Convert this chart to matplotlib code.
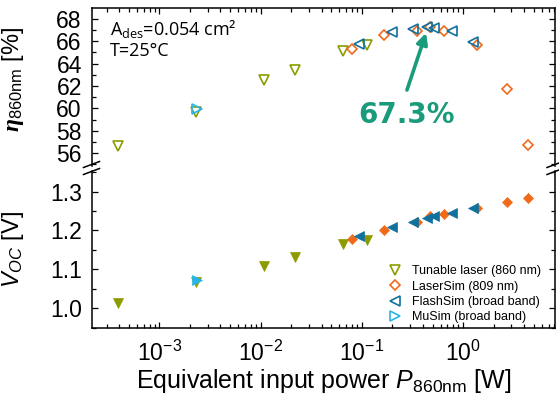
import matplotlib
matplotlib.use("Agg")
import matplotlib.pyplot as plt
from matplotlib.lines import Line2D
from matplotlib.ticker import LogLocator, LogFormatterMathtext, MultipleLocator, NullFormatter

plt.rcParams['font.family'] = ['Liberation Sans', 'DejaVu Sans']
plt.rcParams['mathtext.fontset'] = 'custom'
plt.rcParams['mathtext.rm'] = 'Liberation Sans'
plt.rcParams['mathtext.it'] = 'Liberation Sans:italic'
plt.rcParams['mathtext.bf'] = 'Liberation Sans:bold'
try:
    plt.rcParams['mathtext.bfit'] = 'Liberation Serif:bold:italic'
except KeyError:
    pass

# ---------------- data ----------------
tl_P = [3.9e-4, 2.28e-3, 0.0108, 0.0219, 0.0649, 0.112]
tl_eta = [56.6, 59.7, 62.5, 63.4, 65.1, 65.7]
tl_voc = [1.014, 1.068, 1.108, 1.131, 1.165, 1.176]

ls_P = [0.079, 0.167, 0.349, 0.473, 0.65, 1.37, 2.71, 4.4]
ls_eta = [65.3, 66.6, 66.95, 67.3, 66.9, 65.7, 61.7, 56.7]
ls_voc = [1.179, 1.202, 1.223, 1.236, 1.242, 1.259, 1.274, 1.283]

fs_P = [0.0946, 0.198, 0.319, 0.438, 0.521, 0.774, 1.25]
fs_eta = [65.8, 66.8, 67.1, 67.3, 67.2, 66.9, 65.9]
fs_voc = [1.185, 1.208, 1.223, 1.232, 1.238, 1.245, 1.257]

mu_P = [2.34e-3]
mu_eta = [59.9]
mu_voc = [1.072]

labels = ["Tunable laser (860 nm)", "LaserSim (809 nm)",
          "FlashSim (broad band)", "MuSim (broad band)"]
peak_label = "67.3%"

c_tl = '#8c9c00'
c_ls = '#f06a1c'
c_fs = '#10709e'
c_mu = '#2ab4e6'
c_ann = '#1a9b7b'

W, H = 559, 399
fig = plt.figure(figsize=(W / 100, H / 100), dpi=100)

L, R = 91.5, 555.0
ytop, ygap1, ygap2, ybot = 8.0, 166.0, 171.0, 328.0
ax1 = fig.add_axes([L / W, 1 - ygap1 / H, (R - L) / W, (ygap1 - ytop) / H])
ax2 = fig.add_axes([L / W, 1 - ybot / H, (R - L) / W, (ybot - ygap2) / H])

for ax in (ax1, ax2):
    ax.set_xscale('log')
    ax.set_xlim(2.13e-4, 8.1)
    for s in ax.spines.values():
        s.set_linewidth(1.1)
    ax.xaxis.set_major_locator(LogLocator(base=10, numticks=20))
    ax.xaxis.set_minor_locator(LogLocator(base=10, subs=range(2, 10), numticks=20))
    ax.tick_params(which='both', direction='in', width=0.9, left=True, right=True,
                   labelsize=16.5, pad=7)
    ax.tick_params(which='major', length=4.5)
    ax.tick_params(which='minor', length=2.6)

ax1.spines['bottom'].set_visible(False)
ax2.spines['top'].set_visible(False)
ax1.tick_params(which='both', bottom=False, top=True, labelbottom=False)
ax2.tick_params(which='both', bottom=True, top=False)
ax2.tick_params(axis='x', pad=9)
ax2.xaxis.set_major_formatter(LogFormatterMathtext())
ax2.xaxis.set_minor_formatter(NullFormatter())

ax1.set_ylim(54.84, 68.98)
ax1.yaxis.set_major_locator(MultipleLocator(2))
ax1.yaxis.set_minor_locator(MultipleLocator(1))
ax2.set_ylim(0.949, 1.353)
ax2.yaxis.set_major_locator(MultipleLocator(0.1))
ax2.yaxis.set_minor_locator(MultipleLocator(0.05))
ax2.yaxis.set_major_formatter(matplotlib.ticker.FormatStrFormatter('%.1f'))

ms_open = 7.2
mew = 1.2
h1, = ax1.plot(tl_P, tl_eta, 'v', ms=ms_open, mfc='none', mec=c_tl, mew=mew, ls='none')
h2, = ax1.plot(ls_P, ls_eta, 'D', ms=5.2, mfc='none', mec=c_ls, mew=mew, ls='none')
h3, = ax1.plot(fs_P, fs_eta, '<', ms=ms_open, mfc='none', mec=c_fs, mew=mew, ls='none')
h4, = ax1.plot(mu_P, mu_eta, '>', ms=ms_open, mfc='none', mec=c_mu, mew=mew, ls='none')

ax2.plot(tl_P, tl_voc, 'v', ms=6.5, mfc=c_tl, mec=c_tl, mew=0.5, ls='none')
ax2.plot(ls_P, ls_voc, 'D', ms=4.6, mfc=c_ls, mec=c_ls, mew=0.5, ls='none')
ax2.plot(fs_P, fs_voc, '<', ms=6.5, mfc=c_fs, mec=c_fs, mew=0.5, ls='none')
ax2.plot(mu_P, mu_voc, '>', ms=6.5, mfc=c_mu, mec=c_mu, mew=0.5, ls='none')

leg = ax2.legend([h1, h2, h3, h4], labels, loc='lower left',
                 bbox_to_anchor=(0.641, 0.03), frameon=False, fontsize=9,
                 handlelength=1.0, handletextpad=0.9, borderpad=0,
                 labelspacing=0.27, borderaxespad=0)

ax1.text(0.04, 0.83, r'A$_{\mathregular{des}}$=0.054 cm²', transform=ax1.transAxes,
         fontsize=13, family=['Open Sans', 'DejaVu Sans'], ha='left', va='baseline')
ax1.text(0.04, 0.695, 'T=25°C', transform=ax1.transAxes,
         fontsize=13, family=['Open Sans', 'DejaVu Sans'], ha='left', va='baseline')

ax1.annotate('', xy=(0.431, 66.75), xytext=(0.279, 61.64),
             arrowprops=dict(arrowstyle='-|>', color=c_ann, lw=2.6, mutation_scale=16,
                             shrinkA=0, shrinkB=0))
ax1.text(0.279, 59.4, peak_label, color=c_ann, fontsize=20, fontweight='bold',
         family='DejaVu Sans', ha='center', va='center')

ax1.set_ylabel(r'$\boldsymbol{\eta}_{\mathregular{860nm}}$ [%]', fontsize=17)
ax2.set_ylabel(r'$V_{OC}$ [V]', fontsize=17)
ax1.yaxis.set_label_coords(-0.142, 0.55)
ax2.yaxis.set_label_coords(-0.142, 0.5)
ax2.set_xlabel(r'Equivalent input power $P_{\mathregular{860nm}}$ [W]', fontsize=18, labelpad=1)

# axis-break marks
def brk(xp, yp):
    x0, x1 = (xp - 8) / W, (xp + 8) / W
    y0, y1 = 1 - (yp + 3) / H, 1 - (yp - 3) / H
    fig.add_artist(Line2D([x0, x1], [y0, y1], color='black', lw=1.1))

for xp in (L, R):
    brk(xp, 164.5)
    brk(xp, 171.5)

fig.savefig('out.png', dpi=100)
